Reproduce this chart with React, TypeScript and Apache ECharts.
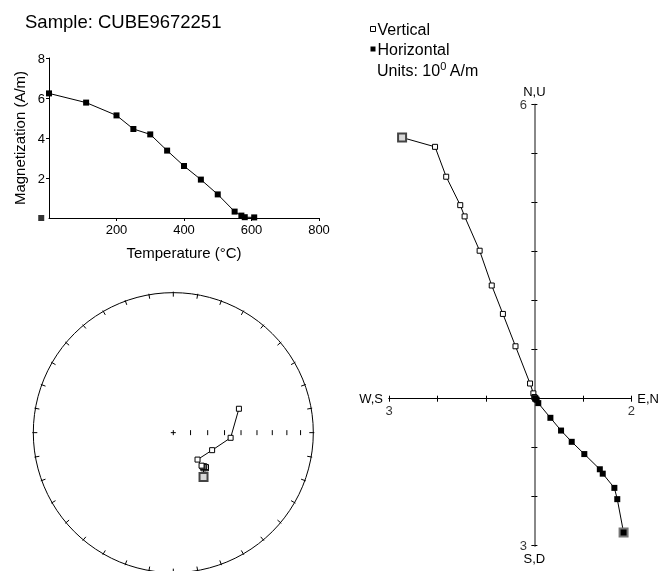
import React, { useEffect, useRef } from "react";
import * as echarts from "echarts";

const FONT = "'Liberation Sans', Arial, Helvetica, sans-serif";

const sampleTitle = "Sample: CUBE9672251";
// demagnetization steps (°C) and intensity (A/m)
const temps = [0, 110, 200, 250, 300, 350, 400, 450, 500, 550, 570, 580, 608];
const magnetization = [6.23, 5.77, 5.13, 4.45, 4.18, 3.37, 2.6, 1.92, 1.18, 0.32, 0.12, 0.04, 0.03];
const strayPoint = [-23, 0];
const tempTicks = [200, 400, 600, 800];
const magTicks = [2, 4, 6, 8];

// vector components (units 10^0 A/m)
const east = [1.84, 1.71, 1.65, 1.41, 1.35, 1.03, 0.77, 0.55, 0.33, 0.08, 0.046, 0.022, 0.019];
const north = [-2.73, -2.05, -1.82, -1.53, -1.44, -1.13, -0.88, -0.65, -0.39, -0.09, -0.021, -0.002, 0.007];
const up = [5.33, 5.14, 4.53, 3.95, 3.72, 3.02, 2.31, 1.73, 1.07, 0.31, 0.109, 0.033, 0.023];

const zijX = [-3, 2];
const zijY = [-3, 6];
const stereoIncTicks = [80, 70, 60, 50, 40, 30, 20, 10];

function project(e: number, n: number, u: number): number[] {
  const h = Math.hypot(e, n);
  const dec = Math.atan2(e, n);
  const inc = Math.atan2(Math.abs(u), h);
  const r = Math.SQRT2 * Math.sin((Math.PI / 2 - inc) / 2);
  return [r * Math.sin(dec), r * Math.cos(dec)];
}

const openSq = { color: "#fff", borderColor: "#000", borderWidth: 1 };
const bigOpen = { color: "#d8d8d8", borderColor: "#444", borderWidth: 2 };
const bigFilled = { color: "#000", borderColor: "#777", borderWidth: 2 };

function firstBig(points: number[][], style: any) {
  return points.map((p, i) => (i === 0 ? { value: p, symbolSize: 8, itemStyle: style } : p));
}

export default function App() {
  const ref = useRef<HTMLDivElement>(null);
  useEffect(() => {
    const chart = echarts.init(ref.current!, null, { renderer: "svg" });
    const demagData = temps.map((t, i) => [t, magnetization[i]]);
    const vertData = north.map((n, i) => [n, up[i]]);
    const horData = east.map((e, i) => [e, north[i]]);
    const stereoData = east.map((e, i) => project(e, north[i], up[i]));
    const txt = { fontFamily: FONT, color: "#000" };
    const endLabels = [
      ...zijX.map((v) => ({
        value: [v, 0],
        label: { show: true, position: "bottom", distance: 5, formatter: String(Math.abs(v)) },
      })),
      ...zijY.map((v) => ({
        value: [0, v],
        label: { show: true, position: "left", distance: 7, formatter: String(Math.abs(v)) },
      })),
    ];

    const option: any = {
      animation: false,
      textStyle: { fontFamily: FONT },
      legend: {
        data: [
          { name: "Vertical", itemStyle: { color: "#fff", borderColor: "#000", borderWidth: 1 } },
          { name: "Horizontal", itemStyle: { color: "#000", borderColor: "#000", borderWidth: 0 } },
        ],
        orient: "vertical",
        left: 370,
        top: 21,
        padding: 0,
        itemWidth: 5,
        itemHeight: 5,
        itemGap: 4,
        icon: "rect",
        selectedMode: false,
        textStyle: { ...txt, fontSize: 16, padding: [0, 0, 0, -3] },
      },
      graphic: [
        {
          type: "text",
          x: 25,
          y: 21,
          style: { text: sampleTitle, fontSize: 18.5, fontFamily: FONT, fill: "#000", verticalAlign: "middle" },
        },
        {
          type: "text",
          x: 377,
          y: 70,
          style: {
            text: "{a|Units: 10}{s|0}{a| A/m}",
            verticalAlign: "middle",
            rich: {
              a: { fontSize: 16, fontFamily: FONT, fill: "#000" },
              s: { fontSize: 11, fontFamily: FONT, fill: "#000", padding: [0, 0, 8, 0] },
            },
          },
        },
      ],
      grid: [
        { left: 49, top: 58, width: 270, height: 160 },
        { left: 389, top: 104.7, width: 245, height: 441 },
        { left: 33.3, top: 294.3, width: 280, height: 280 },
      ],
      xAxis: [
        {
          gridIndex: 0,
          type: "value",
          min: 0,
          max: 800,
          interval: 200,
          splitLine: { show: false },
          axisLine: { lineStyle: { color: "#000", width: 1 } },
          axisTick: { length: 3, customValues: tempTicks, lineStyle: { color: "#000" } },
          axisLabel: { customValues: tempTicks, margin: 5, ...txt, fontSize: 13 },
          name: "Temperature (°C)",
          nameLocation: "middle",
          nameGap: 27,
          nameTextStyle: { ...txt, fontSize: 15 },
        },
        {
          gridIndex: 1,
          type: "value",
          position: "bottom",
          min: zijX[0],
          max: zijX[1],
          interval: 1,
          splitLine: { show: false },
          axisLine: { onZero: true, lineStyle: { color: "#000", width: 1 } },
          axisTick: { length: 3, lineStyle: { color: "#000" } },
          axisLabel: { show: false },
          name: "E,N",
          nameLocation: "end",
          nameGap: 6,
          nameTextStyle: { ...txt, fontSize: 13 },
        },
        {
          gridIndex: 1,
          type: "value",
          position: "top",
          min: zijX[0],
          max: zijX[1],
          interval: 1,
          splitLine: { show: false },
          axisLine: { onZero: true, lineStyle: { color: "#000", width: 1 } },
          axisTick: { length: 3, lineStyle: { color: "#000" } },
          axisLabel: { show: false },
          name: "W,S",
          nameLocation: "start",
          nameGap: 6,
          nameTextStyle: { ...txt, fontSize: 13 },
        },
        { gridIndex: 2, type: "value", min: -1, max: 1, show: false },
      ],
      yAxis: [
        {
          gridIndex: 0,
          type: "value",
          min: 0,
          max: 8,
          interval: 2,
          splitLine: { show: false },
          axisLine: { show: true, lineStyle: { color: "#000", width: 1 } },
          axisTick: { show: true, length: 3, customValues: magTicks, lineStyle: { color: "#000" } },
          axisLabel: { customValues: magTicks, margin: 4, ...txt, fontSize: 13 },
          name: "Magnetization (A/m)",
          nameLocation: "middle",
          nameGap: 22,
          nameTextStyle: { ...txt, fontSize: 15 },
        },
        {
          gridIndex: 1,
          type: "value",
          position: "left",
          min: zijY[0],
          max: zijY[1],
          interval: 1,
          splitLine: { show: false },
          axisLine: { show: true, onZero: true, lineStyle: { color: "#888", width: 2 } },
          axisTick: { show: true, length: 3, lineStyle: { color: "#000" } },
          axisLabel: { show: false },
          name: "N,U",
          nameLocation: "end",
          nameGap: 7,
          nameTextStyle: { ...txt, fontSize: 13 },
        },
        {
          gridIndex: 1,
          type: "value",
          position: "right",
          min: zijY[0],
          max: zijY[1],
          interval: 1,
          splitLine: { show: false },
          axisLine: { show: true, onZero: true, lineStyle: { color: "#888", width: 2 } },
          axisTick: { show: true, length: 3, lineStyle: { color: "#000" } },
          axisLabel: { show: false },
          name: "S,D",
          nameLocation: "start",
          nameGap: 6,
          nameTextStyle: { ...txt, fontSize: 13 },
        },
        { gridIndex: 2, type: "value", min: -1, max: 1, show: false },
      ],
      series: [
        {
          type: "line",
          name: "demag",
          xAxisIndex: 0,
          yAxisIndex: 0,
          data: demagData,
          symbol: "rect",
          symbolSize: 6,
          itemStyle: { color: "#000" },
          lineStyle: { color: "#000", width: 1 },
        },
        {
          type: "scatter",
          name: "stray",
          xAxisIndex: 0,
          yAxisIndex: 0,
          clip: false,
          data: [strayPoint],
          symbol: "rect",
          symbolSize: 6,
          itemStyle: { color: "#000" },
        },
        {
          type: "scatter",
          name: "endLabels",
          xAxisIndex: 1,
          yAxisIndex: 1,
          silent: true,
          clip: false,
          symbol: "rect",
          symbolSize: 1,
          itemStyle: { color: "rgba(0,0,0,0)" },
          label: { color: "#000", fontFamily: FONT, fontSize: 13 },
          data: endLabels,
        },
        {
          type: "line",
          name: "Vertical",
          xAxisIndex: 1,
          yAxisIndex: 1,
          data: firstBig(vertData, bigOpen),
          symbol: "rect",
          symbolSize: 5,
          itemStyle: openSq,
          lineStyle: { color: "#000", width: 1 },
          z: 3,
        },
        {
          type: "line",
          name: "Horizontal",
          xAxisIndex: 1,
          yAxisIndex: 1,
          data: firstBig(horData, bigFilled),
          symbol: "rect",
          symbolSize: 6,
          itemStyle: { color: "#000" },
          lineStyle: { color: "#000", width: 1 },
          z: 3,
        },
        {
          type: "custom",
          name: "net",
          xAxisIndex: 3,
          yAxisIndex: 3,
          data: [[0, 0]],
          silent: true,
          renderItem: (params: any, api: any) => {
            const c = api.coord([0, 0]);
            const ed = api.coord([1, 0]);
            const R = ed[0] - c[0];
            const children: any[] = [
              { type: "circle", shape: { cx: c[0], cy: c[1], r: R }, style: { fill: "none", stroke: "#000", lineWidth: 1 } },
              { type: "line", shape: { x1: c[0] - 2.5, y1: c[1], x2: c[0] + 2.5, y2: c[1] }, style: { stroke: "#000", lineWidth: 1 } },
              { type: "line", shape: { x1: c[0], y1: c[1] - 2.5, x2: c[0], y2: c[1] + 2.5 }, style: { stroke: "#000", lineWidth: 1 } },
            ];
            for (let a = 0; a < 360; a += 10) {
              const rad = (a * Math.PI) / 180;
              const sx = Math.sin(rad);
              const sy = -Math.cos(rad);
              children.push({
                type: "line",
                shape: { x1: c[0] + sx * (R + 1), y1: c[1] + sy * (R + 1), x2: c[0] + sx * (R - 4), y2: c[1] + sy * (R - 4) },
                style: { stroke: "#000", lineWidth: 1 },
              });
            }
            stereoIncTicks.forEach((inc) => {
              const r = Math.SQRT2 * Math.sin((((90 - inc) / 2) * Math.PI) / 180) * R;
              children.push({
                type: "line",
                shape: { x1: c[0] + r, y1: c[1] - 2.5, x2: c[0] + r, y2: c[1] + 2.5 },
                style: { stroke: "#000", lineWidth: 1 },
              });
            });
            return { type: "group", children };
          },
        },
        {
          type: "line",
          name: "stereo",
          xAxisIndex: 3,
          yAxisIndex: 3,
          data: firstBig(stereoData, bigOpen),
          symbol: "rect",
          symbolSize: 5,
          itemStyle: openSq,
          lineStyle: { color: "#000", width: 1 },
          z: 3,
        },
      ],
    };
    chart.setOption(option);
    return () => chart.dispose();
  }, []);
  return <div ref={ref} style={{ position: "fixed", left: 0, top: 0, width: 662, height: 571 }} />;
}
